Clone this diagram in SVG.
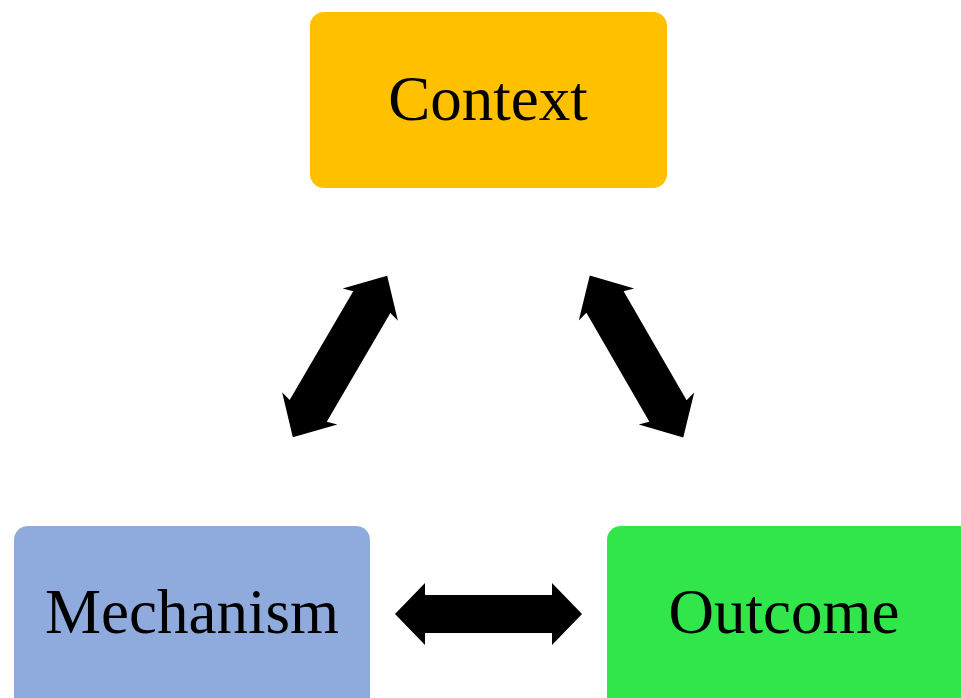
<svg xmlns="http://www.w3.org/2000/svg" width="961" height="698" viewBox="0 0 961 698">
<defs>
<style>
.lbl{font-family:"Liberation Serif","Times New Roman",serif;font-size:63px;fill:#000;text-anchor:middle}
.arr{fill:#000}
</style>
<polygon id="dbl" points="-93.5,0 -63.5,-31 -63.5,-19 63.5,-19 63.5,-31 93.5,0 63.5,31 63.5,19 -63.5,19 -63.5,31"/>
<polygon id="dbl2" points="-93.5,0 -60,-32 -63,-21.5 63,-21.5 60,-32 93.5,0 60,32 63,21.5 -63,21.5 -60,32"/>
</defs>
<rect width="961" height="698" fill="#fff"/>
<g id="context">
<rect x="310" y="12" width="357" height="176" rx="14" fill="#FFC000"/>
<text class="lbl" x="488" y="120">Context</text>
</g>
<g id="mechanism">
<rect x="14" y="526" width="356" height="200" rx="14" fill="#8FAADC"/>
<text class="lbl" x="192" y="633">Mechanism</text>
</g>
<g id="outcome">
<rect x="607" y="526" width="380" height="200" rx="14" fill="#30E64A"/>
<text class="lbl" x="784" y="633">Outcome</text>
</g>
<g id="connectors" class="arr">
<use href="#dbl2" transform="translate(340,356.5) rotate(-59.7)"/>
<use href="#dbl2" transform="translate(636.5,356.5) rotate(60)"/>
<use href="#dbl" transform="translate(488.5,614)"/>
</g>
</svg>
